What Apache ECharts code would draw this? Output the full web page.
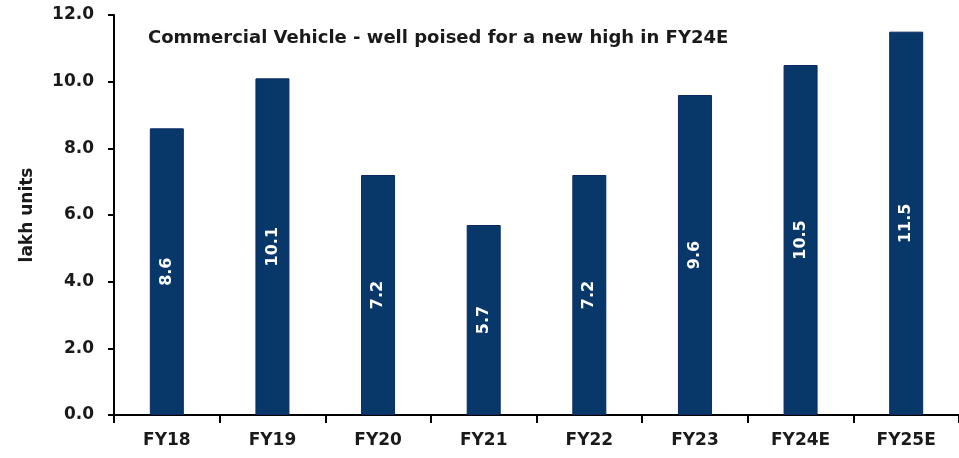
<!DOCTYPE html>
<html>
<head>
<meta charset="utf-8">
<script src="https://cdn.jsdelivr.net/npm/echarts@6/dist/echarts.min.js"></script>
<style>
html,body{margin:0;padding:0;background:#fff;}
#main{width:959px;height:458px;}
</style>
</head>
<body>
<div id="main"></div>
<script>
var years = ['FY18', 'FY19', 'FY20', 'FY21', 'FY22', 'FY23', 'FY24E', 'FY25E'];
var units = [8.6, 10.1, 7.2, 5.7, 7.2, 9.6, 10.5, 11.5];
var titleText = 'Commercial Vehicle - well poised for a new high in FY24E';

var chart = echarts.init(document.getElementById('main'));
var fontFam = '"DejaVu Sans", sans-serif';
var option = {
	animation: false,
	title: {
		text: titleText,
		left: 143,
		top: 24,
		textStyle: { fontFamily: fontFam, fontSize: 18, fontWeight: 'bold', color: '#1a1a1a' }
	},
	grid: { left: 114, top: 15, width: 852, height: 400, containLabel: false },
	xAxis: {
		type: 'category',
		data: years,
		axisLine: { lineStyle: { color: '#000', width: 2 } },
		axisTick: { show: true, alignWithLabel: false, length: 8, lineStyle: { color: '#000', width: 2 } },
		axisLabel: { fontFamily: fontFam, fontSize: 17, fontWeight: 'bold', color: '#1a1a1a', margin: 17 }
	},
	yAxis: {
		type: 'value',
		min: 0,
		max: 12,
		interval: 2,
		name: 'lakh units',
		nameLocation: 'middle',
		nameGap: 78,
		nameTextStyle: { fontFamily: fontFam, fontSize: 17, fontWeight: 'bold', color: '#1a1a1a' },
		splitLine: { show: false },
		axisLine: { show: true, lineStyle: { color: '#000', width: 2 } },
		axisTick: { show: true, length: 6, lineStyle: { color: '#000', width: 2 } },
		axisLabel: {
			fontFamily: fontFam, fontSize: 17, fontWeight: 'bold', color: '#1a1a1a', margin: 20,
			formatter: function(v){ return v.toFixed(1); }
		}
	},
	series: [{
		type: 'bar',
		data: units,
		barWidth: 34,
		itemStyle: { color: '#08386a', borderColor: '#0b2a62', borderWidth: 1 },
		label: {
			show: true,
			position: 'inside',
			rotate: 90,
			color: '#fff',
			fontFamily: fontFam,
			fontSize: 16,
			fontWeight: 'bold',
			formatter: function(p){ return p.value.toFixed(1); }
		}
	}]
};
chart.setOption(option);
</script>
</body>
</html>
